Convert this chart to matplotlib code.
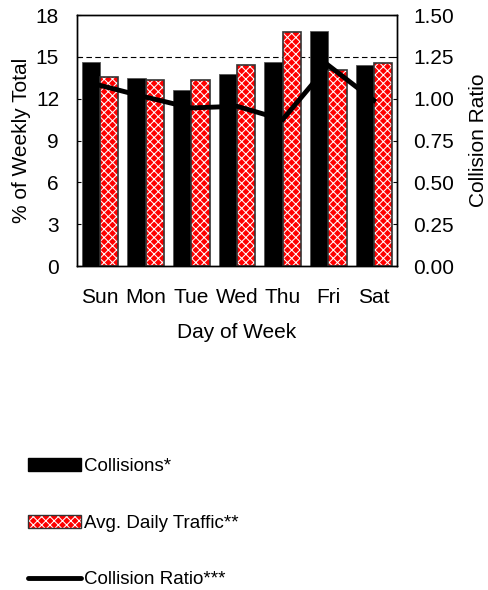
import matplotlib
matplotlib.use('Agg')
import matplotlib.pyplot as plt
from matplotlib.patches import Patch
from matplotlib.lines import Line2D
import numpy as np

plt.rcParams['font.family'] = ['Liberation Sans', 'DejaVu Sans']
plt.rcParams['hatch.linewidth'] = 0.75

days = ['Sun', 'Mon', 'Tue', 'Wed', 'Thu', 'Fri', 'Sat']
collisions = [14.65, 13.46, 12.62, 13.77, 14.65, 16.88, 14.42]
avg_daily_traffic = [13.58, 13.34, 13.34, 14.40, 16.76, 14.06, 14.58]
collision_ratio = [1.08, 1.01, 0.945, 0.955, 0.875, 1.20, 0.99]

left_ticks = [0, 3, 6, 9, 12, 15, 18]
right_ticks = [0.0, 0.25, 0.5, 0.75, 1.0, 1.25, 1.5]

fig = plt.figure(figsize=(4.88, 5.9), dpi=100)
ax = fig.add_axes([0.158, 0.549, 0.655, 0.4255])
x = np.arange(len(days))
w = 0.4

ax.bar(x - w / 2, collisions, w, color='black', edgecolor='#555555', linewidth=0.6, zorder=2)
# red bars with white pattern, then a dark outline on top
ax.bar(x + w / 2, avg_daily_traffic, w, color='#ff0000', edgecolor='white', hatch='xxxx', linewidth=0, zorder=2)
ax.bar(x + w / 2, avg_daily_traffic, w, fill=False, edgecolor='#333333', linewidth=1.2, zorder=3)

ax.axhline(15, color='black', linewidth=0.8, dashes=(5, 3), zorder=1)

ax.set_xlim(-0.5, 6.5)
ax.set_ylim(0, 18)
ax.set_yticks(left_ticks)
ax.set_xticks(x)
ax.set_xticklabels(days)
ax.tick_params(axis='x', length=0, pad=16, labelsize=15)
ax.tick_params(axis='y', direction='in', length=3, pad=13, labelsize=15)
ax.set_xlabel('Day of Week', fontsize=15)
ax.set_ylabel('% of Weekly Total', fontsize=15)
ax.xaxis.set_label_coords(0.5, -0.225)
ax.yaxis.set_label_coords(-0.143, 0.5)

ax2 = ax.twinx()
ax2.plot(x, collision_ratio, color='black', linewidth=3.5, solid_joinstyle='miter', zorder=4)
ax2.set_ylim(0, 1.5)
ax2.set_yticks(right_ticks)
ax2.set_yticklabels(['%.2f' % t for t in right_ticks])
ax2.tick_params(axis='y', direction='in', length=3, pad=12, labelsize=15)
ax2.set_ylabel('Collision Ratio', fontsize=15)
ax2.yaxis.set_label_coords(1.225, 0.5)

for a in (ax, ax2):
    for s in a.spines.values():
        s.set_color('black')
        s.set_linewidth(1.0)

h1 = Patch(facecolor='black', edgecolor='black')
h2a = Patch(facecolor='#ff0000', edgecolor='white', hatch='xxxx', linewidth=0)
h2b = Patch(fill=False, edgecolor='#333333', linewidth=1.0)
h3 = Line2D([0], [0], color='black', linewidth=3.5, solid_capstyle='round')
fig.legend([h1, (h2a, h2b), h3],
           ['Collisions*', 'Avg. Daily Traffic**', 'Collision Ratio***'],
           loc='upper left', bbox_to_anchor=(0.043, 0.236), frameon=False,
           fontsize=13.5, handlelength=2.8, handletextpad=0.15, labelspacing=2.1,
           borderaxespad=0)

fig.savefig('out.png', dpi=100)
